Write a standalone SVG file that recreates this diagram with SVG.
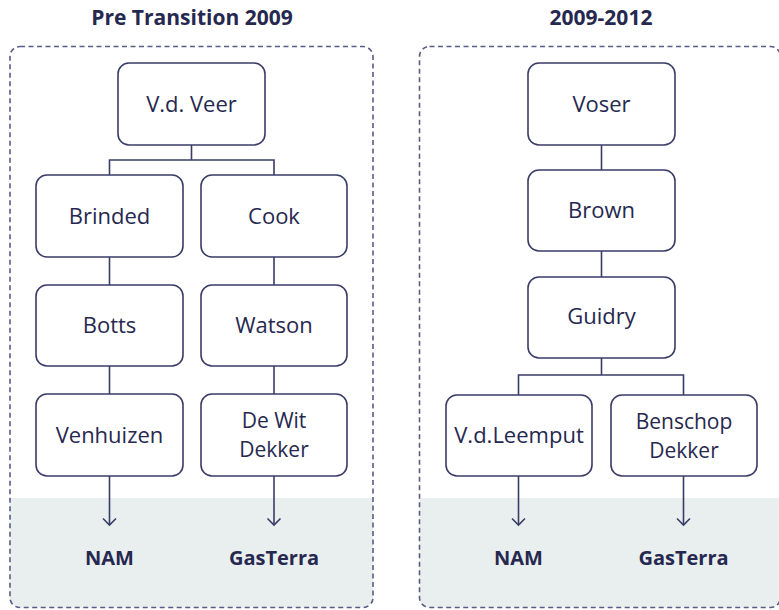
<svg xmlns="http://www.w3.org/2000/svg" width="779" height="610" viewBox="0 0 779 610">
<defs>
<style>
.panel{fill:none;stroke:#5a5c86;stroke-width:1.6;stroke-dasharray:5 3.5}
.shade{fill:#e9eeee}
.box{fill:#ffffff;stroke:#3a3c68;stroke-width:1.6}
.lbl{font-family:"Open Sans","Noto Sans","Liberation Sans",sans-serif;font-size:22px;fill:#26284f;text-anchor:middle}
.lbl2{font-family:"Open Sans","Noto Sans","Liberation Sans",sans-serif;font-size:21px;fill:#26284f;text-anchor:middle}
.ttl{font-family:"Open Sans","Noto Sans","Liberation Sans",sans-serif;font-size:21px;font-weight:700;fill:#26284f;text-anchor:middle}
.end{font-family:"Open Sans","Noto Sans","Liberation Sans",sans-serif;font-size:20px;font-weight:700;fill:#26284f;text-anchor:middle}
.con{fill:none;stroke:#3a3c68;stroke-width:1.6}
</style>
<marker id="arr" markerUnits="userSpaceOnUse" viewBox="-8 -8 16 16" markerWidth="16" markerHeight="16" refX="0" refY="0" orient="auto" overflow="visible">
<path d="M-6.5,-6.5 L0,0 L-6.5,6.5" fill="none" stroke="#3a3c68" stroke-width="1.6"/>
</marker>
</defs>
<rect width="779" height="610" fill="#ffffff"/>

<g id="panel-left">
<path class="shade" d="M10,498 H373 V597.5 a10,10 0 0 1 -10,10 H20 a10,10 0 0 1 -10,-10 Z"/>
<rect class="panel" x="10" y="46.5" width="363" height="561" rx="10"/>
<text class="ttl" x="192" y="25">Pre Transition 2009</text>
</g>
<g id="panel-right">
<path class="shade" d="M419.5,498 H780.5 V597.5 a10,10 0 0 1 -10,10 H429.5 a10,10 0 0 1 -10,-10 Z"/>
<rect class="panel" x="419.5" y="46.5" width="361" height="561" rx="10"/>
<text class="ttl" x="601" y="25">2009-2012</text>
</g>

<g id="connectors">
<path class="con" d="M191.5,145 V160 M109.5,175 V160 H274 V175"/>
<path class="con" d="M109.5,257 V285 M274,257 V285 M109.5,366 V394 M274,366 V394"/>
<path class="con" d="M109.5,476 V525" marker-end="url(#arr)"/>
<path class="con" d="M274,476 V525" marker-end="url(#arr)"/>
<path class="con" d="M601.5,145 V170 M601.5,251 V277 M601.5,358 V375 M518.5,395 V375 H683.5 V395"/>
<path class="con" d="M518.5,476 V525" marker-end="url(#arr)"/>
<path class="con" d="M683.5,476 V525" marker-end="url(#arr)"/>
</g>

<g id="vdveer"><rect class="box" x="118" y="63" width="147" height="82" rx="11"/><text class="lbl" x="191.5" y="111.5">V.d. Veer</text></g>
<g id="brinded"><rect class="box" x="36" y="175" width="147" height="82" rx="11"/><text class="lbl" x="109.5" y="223.5">Brinded</text></g>
<g id="cook"><rect class="box" x="201" y="175" width="146" height="82" rx="11"/><text class="lbl" x="274" y="223.5">Cook</text></g>
<g id="botts"><rect class="box" x="36" y="285" width="147" height="81" rx="11"/><text class="lbl" x="109.5" y="333">Botts</text></g>
<g id="watson"><rect class="box" x="201" y="285" width="146" height="81" rx="11"/><text class="lbl" x="274" y="333">Watson</text></g>
<g id="venhuizen"><rect class="box" x="36" y="394" width="147" height="82" rx="11"/><text class="lbl" x="109.5" y="442.5">Venhuizen</text></g>
<g id="dewitdekker"><rect class="box" x="201" y="394" width="146" height="82" rx="11"/><text class="lbl2" x="274" y="428">De Wit</text><text class="lbl2" x="274" y="457">Dekker</text></g>
<g id="nam-left"><text class="end" x="109.5" y="565">NAM</text></g>
<g id="gasterra-left"><text class="end" x="274" y="565">GasTerra</text></g>

<g id="voser"><rect class="box" x="528" y="63" width="147" height="82" rx="11"/><text class="lbl" x="601.5" y="111.5">Voser</text></g>
<g id="brown"><rect class="box" x="528" y="170" width="147" height="81" rx="11"/><text class="lbl" x="601.5" y="218">Brown</text></g>
<g id="guidry"><rect class="box" x="528" y="277" width="147" height="81" rx="11"/><text class="lbl" x="601.5" y="324">Guidry</text></g>
<g id="vdleemput"><rect class="box" x="446" y="395" width="146" height="81" rx="11"/><text class="lbl" x="519" y="443">V.d.Leemput</text></g>
<g id="benschopdekker"><rect class="box" x="611" y="395" width="146" height="81" rx="11"/><text class="lbl2" x="684" y="429">Benschop</text><text class="lbl2" x="684" y="458">Dekker</text></g>
<g id="nam-right"><text class="end" x="518.5" y="565">NAM</text></g>
<g id="gasterra-right"><text class="end" x="683.5" y="565">GasTerra</text></g>
</svg>
